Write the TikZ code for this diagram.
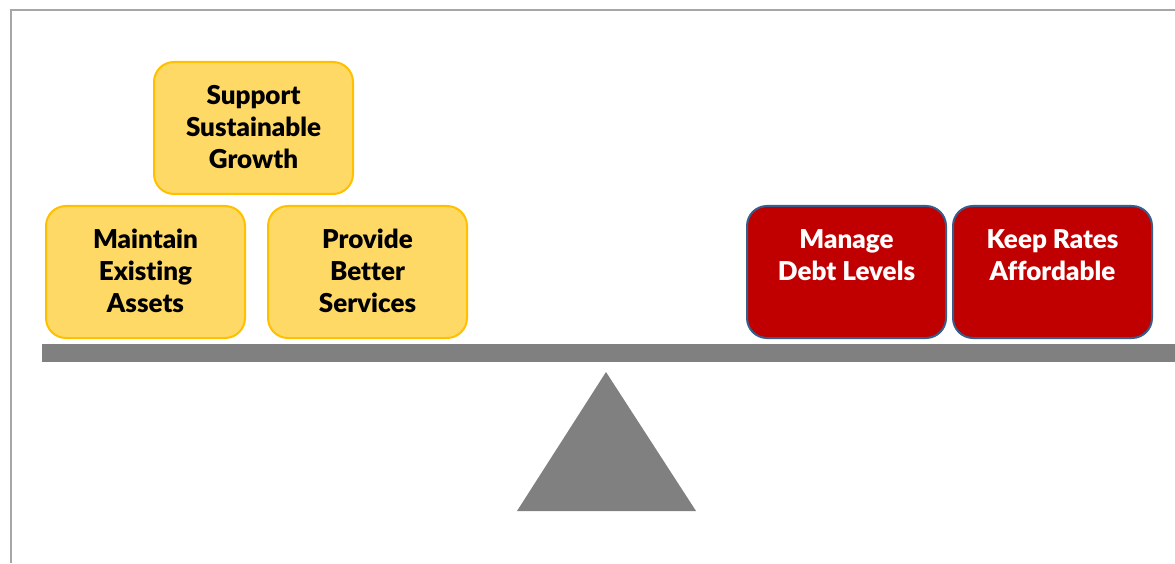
\documentclass[tikz,border=0pt]{standalone}
\usepackage{fontspec}
\setmainfont{Lato}[BoldFont={Lato Black}, RawFeature={-liga}]
\definecolor{yfill}{HTML}{FFD966}
\definecolor{yline}{HTML}{FFC000}
\definecolor{rfill}{HTML}{C00000}
\definecolor{rline}{HTML}{385D8A}
\definecolor{beamgray}{HTML}{808080}
\definecolor{framegray}{HTML}{A6A6A6}
\newcommand{\boxtxt}[1]{\parbox[c][132pt][t]{199pt}{\centering\fontsize{26}{31.8}\selectfont\bfseries\rule{0pt}{42.5pt}#1}}
\tikzset{
  basebox/.style={rounded corners=20pt, line width=2pt, inner sep=0pt,
    minimum width=199pt, minimum height=132pt},
  ybox/.style={basebox, draw=yline, fill=yfill, text=black},
  rbox/.style={basebox, draw=rline, fill=rfill, text=white},
}
\begin{document}
\begin{tikzpicture}[x=1pt,y=1pt]
\useasboundingbox (0,0) rectangle (1175,563);
% frame
\draw[framegray, line width=1.5pt] (11,0) -- (11,553) -- (1175,553);
% beam and fulcrum
\fill[beamgray] (42,201) rectangle (1175,219);
\fill[beamgray] (517,52) -- (606,191) -- (696,52) -- cycle;
% boxes
\node[ybox] (support) at (253.5,435) {\boxtxt{Support\\Sustainable\\Growth}};
\node[ybox] (maintain) at (145.5,291) {\boxtxt{Maintain\\Existing\\Assets}};
\node[ybox] (provide) at (367.5,291) {\boxtxt{Provide\\Better\\Services}};
\node[rbox] (manage) at (846.5,291) {\boxtxt{Manage\\Debt Levels}};
\node[rbox] (keep) at (1052.5,291) {\boxtxt{Keep Rates\\Affordable}};
\end{tikzpicture}
\end{document}
